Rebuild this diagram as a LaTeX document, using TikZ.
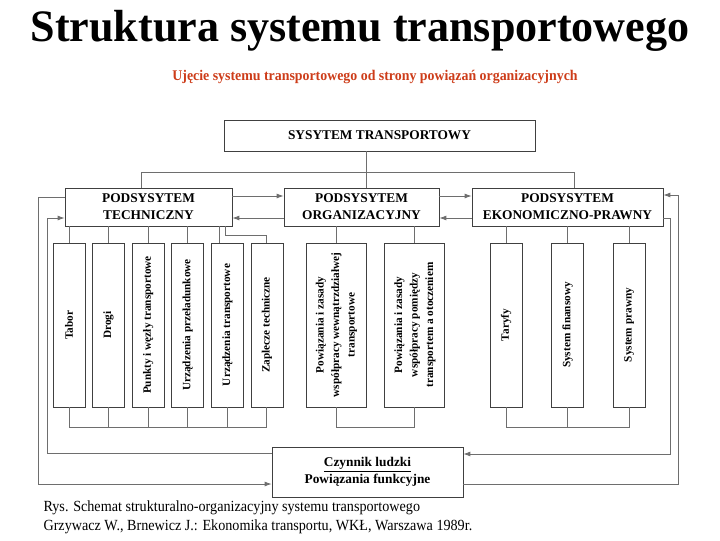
\documentclass[tikz,border=0pt]{standalone}
\usepackage{fontspec}
\setmainfont{Liberation Serif}
\usepackage{xcolor}
\definecolor{titleRed}{RGB}{205,60,25}
\definecolor{lineGray}{RGB}{110,110,110}
\usetikzlibrary{arrows.meta, positioning, calc}

\begin{document}
\begin{tikzpicture}[
    x=0.025cm, y=-0.025cm,
    box/.style={draw=black!75, fill=white, align=center, inner sep=0pt, font=\bfseries\fontsize{9.5}{12}\selectfont},
    subbox/.style={box, minimum height=0.95cm},
    leaf/.style={draw=black!75, fill=white, minimum width=0.8cm, minimum height=4.1cm, inner sep=0pt, font=\bfseries\fontsize{8}{11}\selectfont},
    caption/.style={anchor=west, font=\fontsize{11}{13}\selectfont, xscale=0.915},
    link/.style={draw=lineGray, line width=0.6pt},
    arr/.style={link, -{Latex[length=5pt,width=3.5pt]}}
]
    \useasboundingbox (0,0) rectangle (720,540);

    % naglowek
    \node[font=\bfseries\fontsize{32}{36}\selectfont, xscale=0.98] (title) at (360,31) {Struktura systemu transportowego};
    \node[font=\bfseries\fontsize{10.5}{12}\selectfont, xscale=0.94, text=titleRed] (subtitle) at (375,77) {Ujęcie systemu transportowego od strony powiązań organizacyjnych};

    % system i podsystemy
    \node[box, minimum width=7.775cm, minimum height=0.775cm] (sys) at (379.5,135.5) {SYSYTEM TRANSPORTOWY};
    \node[subbox, minimum width=4.175cm] (tech) at (148.5,207) {PODSYSYTEM\\TECHNICZNY};
    \node[subbox, minimum width=3.875cm] (org) at (361.5,207) {PODSYSYTEM\\ORGANIZACYJNY};
    \node[subbox, minimum width=4.775cm] (ekon) at (567.5,207) {PODSYSYTEM\\EKONOMICZNO-PRAWNY};

    % elementy podsystemu technicznego
    \node[leaf] (tabor) at (69,325) {\rotatebox{90}{Tabor}};
    \node[leaf, right=0.175cm of tabor] (drogi) {\rotatebox{90}{Drogi}};
    \node[leaf, right=0.175cm of drogi] (punkty) {\rotatebox{90}{Punkty i węzły transportowe}};
    \node[leaf, right=0.175cm of punkty] (przeladunek) {\rotatebox{90}{Urządzenia przeładunkowe}};
    \node[leaf, right=0.175cm of przeladunek] (urzadzenia) {\rotatebox{90}{Urządzenia transportowe}};
    \node[leaf, right=0.175cm of urzadzenia] (zaplecze) {\rotatebox{90}{Zaplecze techniczne}};

    % elementy podsystemu organizacyjnego
    \node[leaf, minimum width=1.5cm] (wewn) at (336,325) {\rotatebox{90}{\begin{tabular}{@{}c@{}}Powiązania i zasady\\współpracy wewnątrzdziałwej\\transportowe\end{tabular}}};
    \node[leaf, minimum width=1.5cm, right=0.45cm of wewn] (otocz) {\rotatebox{90}{\begin{tabular}{@{}c@{}}Powiązania i zasady\\współpracy pomiędzy\\transportem a otoczeniem\end{tabular}}};

    % elementy podsystemu ekonomiczno-prawnego
    \node[leaf] (taryfy) at (506,325) {\rotatebox{90}{Taryfy}};
    \node[leaf, right=0.725cm of taryfy] (finanse) {\rotatebox{90}{System finansowy}};
    \node[leaf, right=0.725cm of finanse] (prawo) {\rotatebox{90}{System prawny}};

    % czynnik ludzki
    \node[box, minimum width=4.775cm, minimum height=1.25cm] (czynnik) at (367.5,472) {\underline{Czynnik ludzki}\\Powiązania funkcyjne};

    % podpis
    \node[caption] (rys) at (39,508) {Rys. Schemat strukturalno-organizacyjny systemu transportowego};
    \node[caption] (zrodlo) at (39,527) {Grzywacz W., Brnewicz J.: Ekonomika transportu, WKŁ, Warszawa 1989r.};

    % punkty pomocnicze
    \coordinate (busL) at (141,172);
    \coordinate (busM) at (366,172);
    \coordinate (busR) at (574,172);
    \coordinate (busT) at (0,427);
    \coordinate (kink) at (225,235);
    \coordinate (loopLo) at (38,484);
    \coordinate (loopLi) at (47,453);
    \coordinate (loopRi) at (670,454);
    \coordinate (loopRo) at (678,484);

    % system -> podsystemy
    \draw[link] (busM |- sys.south) -- (busM |- org.north);
    \draw[link] (busL |- tech.north) -- (busL) -- (busR) -- (busR |- ekon.north);

    % powiazania miedzy podsystemami
    \draw[arr] ([yshift=0.275cm]tech.east) -- ([yshift=0.275cm]org.west);
    \draw[arr] ([yshift=-0.275cm]org.west) -- ([yshift=-0.275cm]tech.east);
    \draw[arr] ([yshift=0.275cm]org.east) -- ([yshift=0.275cm]ekon.west);
    \draw[arr] ([yshift=-0.275cm]ekon.west) -- ([yshift=-0.275cm]org.east);

    % podsystem techniczny -> elementy
    \foreach \n in {tabor, drogi, punkty, przeladunek}
        \draw[link] (\n.north) -- (\n.north |- tech.south);
    \draw[link] ([xshift=-0.2cm]urzadzenia.north) -- ([xshift=-0.2cm]urzadzenia.north |- tech.south);
    \draw[link] (kink |- tech.south) -- (kink) -| (zaplecze.north);
    \draw[link] (tabor.south) -- (tabor.south |- busT) -- (zaplecze.south |- busT) -- (zaplecze.south);
    \foreach \n in {drogi, punkty, przeladunek, urzadzenia}
        \draw[link] (\n.south) -- (\n.south |- busT);

    % podsystem organizacyjny -> elementy
    \foreach \n in {wewn, otocz}
        \draw[link] (\n.north) -- (\n.north |- org.south);
    \draw[link] (wewn.south) -- (wewn.south |- busT) -- (otocz.south |- busT) -- (otocz.south);

    % podsystem ekonomiczno-prawny -> elementy
    \foreach \n in {taryfy, finanse, prawo}
        \draw[link] (\n.north) -- (\n.north |- ekon.south);
    \draw[link] (taryfy.south) -- (taryfy.south |- busT) -- (prawo.south |- busT) -- (prawo.south);
    \draw[link] (finanse.south) -- (finanse.south |- busT);

    % petle sprzezen z czynnikiem ludzkim
    \draw[arr] ([yshift=0.25cm]tech.west) -| (loopLo) -- (loopLo -| czynnik.west);
    \draw[arr] (loopLi -| czynnik.west) -- (loopLi) |- ([yshift=-0.275cm]tech.west);
    \draw[arr] ([yshift=-0.275cm]ekon.east) -| (loopRi) -- (loopRi -| czynnik.east);
    \draw[arr] (loopRo -| czynnik.east) -- (loopRo) |- ([yshift=0.3cm]ekon.east);
\end{tikzpicture}
\end{document}
